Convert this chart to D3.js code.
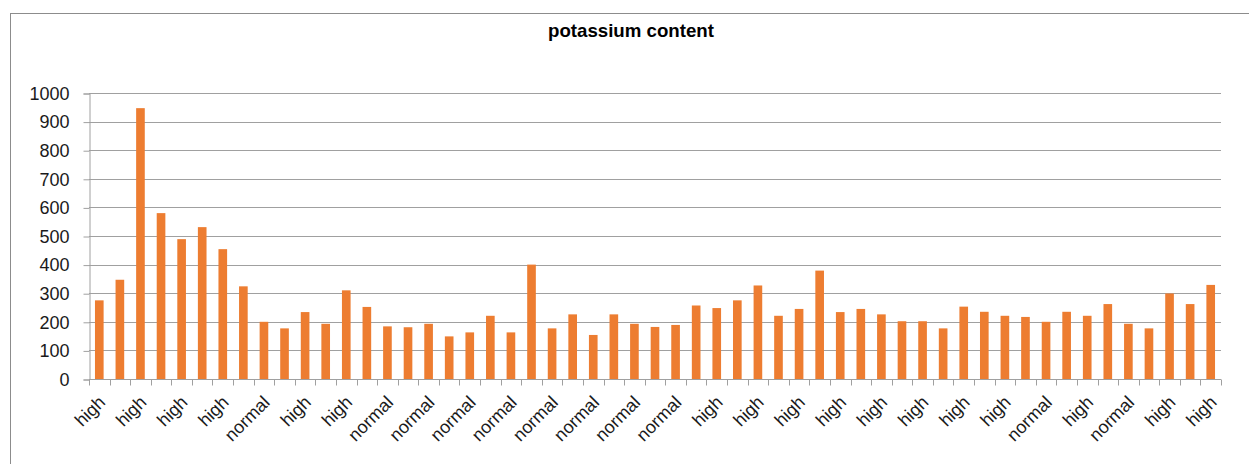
<!DOCTYPE html>
<html>
<head>
<meta charset="utf-8">
<script src="https://cdn.jsdelivr.net/npm/d3@7"></script>
<style>
  html, body { margin: 0; padding: 0; background: #fff; }
  svg { display: block; }
  text { font-family: "Liberation Sans", Arial, sans-serif; fill: #1a1a1a; }
</style>
</head>
<body>
<svg id="chart" width="1249" height="464"></svg>
<script>
const title = "potassium content";
const values = [275,347,947,580,489,531,454,324,200,177,234,193,310,252,
  184,181,193,149,163,221,163,400,177,226,154,226,193,182,
  189,257,248,275,327,221,245,379,234,245,226,202,202,177,
  253,235,221,217,200,235,221,262,193,177,299,262,329];
// labels visible on every other category (1st, 3rd, 5th, ...)
const tickLabels = ["high","high","high","high","normal","high","high",
  "normal","normal","normal","normal","normal","normal","normal","normal",
  "high","high","high","high","high","high","high","high",
  "normal","high","normal","high","high"];
const categories = values.map((v, i) => i);
const yTicks = [0,100,200,300,400,500,600,700,800,900,1000];

const svg = d3.select("#chart");
const W = 1249, H = 464;
const m = { left: 89, right: 28, top: 93, bottom: 85 };

// outer chart border
svg.append("rect").attr("x", 10.5).attr("y", 13.5)
  .attr("width", W + 20).attr("height", H + 20)
  .attr("fill", "#fff").attr("stroke", "#8c8c8c").attr("stroke-width", 1);

svg.append("text").attr("x", 631).attr("y", 37)
  .attr("text-anchor", "middle").style("font-weight", "bold")
  .style("font-size", "19px").style("fill", "#000")
  .attr("textLength", 166).attr("lengthAdjust", "spacingAndGlyphs")
  .text(title);

const x = d3.scaleBand().domain(categories)
  .range([m.left, W - m.right]).paddingInner(0.58).paddingOuter(0.29);
const y = d3.scaleLinear().domain([0, 1000]).range([H - m.bottom, m.top]);

// gridlines
svg.append("g").selectAll("line").data(yTicks.slice(1)).join("line")
  .attr("x1", m.left).attr("x2", W - m.right)
  .attr("y1", d => Math.round(y(d)) + 0.5).attr("y2", d => Math.round(y(d)) + 0.5)
  .attr("stroke", "#a0a0a0").attr("stroke-width", 1);

// y axis
const yAxis = d3.axisLeft(y).tickValues(yTicks).tickFormat(d3.format("d"))
  .tickSize(6).tickPadding(14);
const gy = svg.append("g").attr("transform", `translate(${m.left + 0.5},0.5)`).call(yAxis);
gy.selectAll("path, line").attr("stroke", "#a0a0a0");
gy.selectAll("text").style("font-size", "18px").style("fill", "#1a1a1a")
  .attr("font-family", null);

// bars
svg.append("g").selectAll("rect").data(values).join("rect")
  .attr("x", (d, i) => x(i)).attr("width", x.bandwidth())
  .attr("y", d => y(d)).attr("height", d => y(0) - y(d))
  .attr("fill", "#ed7d31");

// x axis baseline and boundary ticks
const y0 = Math.round(y(0)) + 0.5;
const gx = svg.append("g");
gx.append("line").attr("x1", m.left).attr("x2", W - m.right)
  .attr("y1", y0).attr("y2", y0).attr("stroke", "#a0a0a0");
const half = (x.step() - x.bandwidth()) / 2;
const bounds = categories.map(c => x(c) - half).concat([x(categories[categories.length - 1]) + x.bandwidth() + half]);
gx.selectAll("line.tk").data(bounds).join("line").attr("class", "tk")
  .attr("x1", d => Math.round(d) + 0.5).attr("x2", d => Math.round(d) + 0.5)
  .attr("y1", y0).attr("y2", y0 + 6).attr("stroke", "#a0a0a0");

// x labels
const labelCats = categories.filter(c => c % 2 === 0);
gx.selectAll("text").data(labelCats).join("text")
  .attr("transform", c => `translate(${x(c) + x.bandwidth() / 2 + 7},${y0 + 24}) rotate(-45)`)
  .attr("text-anchor", "end")
  .style("font-size", "18px").style("fill", "#1a1a1a")
  .text((c, i) => tickLabels[i]);
</script>
</body>
</html>
